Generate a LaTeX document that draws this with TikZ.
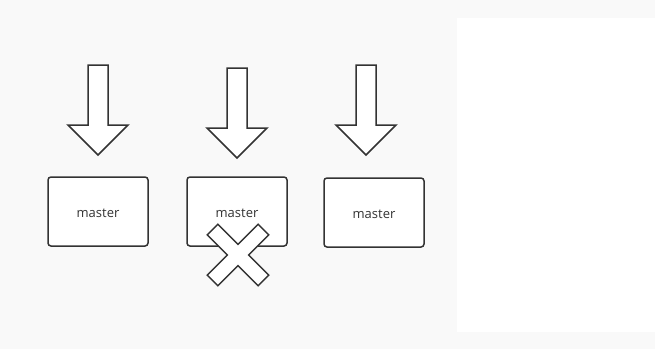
\documentclass[tikz,border=0pt]{standalone}
\usepackage{fontspec}
\setmainfont{Open Sans}
\definecolor{bggray}{HTML}{F9F9F9}
\definecolor{linegray}{HTML}{333333}

\begin{document}
\begin{tikzpicture}[x=1pt,y=-1pt,
  masterbox/.style={draw=linegray,line width=1.5pt,rounded corners=3pt,fill=white,minimum width=100pt,minimum height=69pt,font=\fontsize{13}{14}\selectfont,text=linegray,text height=11pt,text depth=0pt},
  blockarrow/.style={draw=linegray,line width=1.5pt,fill=white,line join=miter}]
\fill[bggray] (0,0) rectangle (655,349);
\fill[white] (457,18) rectangle (655,332);
\useasboundingbox (0,0) rectangle (655,349);
\node[masterbox] (M1) at (98,211.5) {master};
\node[masterbox] (M2) at (237,211.5) {master};
\node[masterbox] (M3) at (374,212.5) {master};
\draw[blockarrow] (88,65)--(108,65)--(108,125)--(128,125)--(98,155)--(68,125)--(88,125)--cycle;
\draw[blockarrow] (227,68)--(247,68)--(247,128)--(267,128)--(237,158)--(207,128)--(227,128)--cycle;
\draw[blockarrow] (356,65)--(376,65)--(376,125)--(396,125)--(366,155)--(336,125)--(356,125)--cycle;
%cross over the second master
\coordinate (X) at (238,255);
\draw[blockarrow,shift={(X)},rotate=45] (7.5,36)--(7.5,7.5)--(36,7.5)--(36,-7.5)--(7.5,-7.5)--(7.5,-36)
  --(-7.5,-36)--(-7.5,-7.5)--(-36,-7.5)--(-36,7.5)--(-7.5,7.5)--(-7.5,36)--cycle;
\end{tikzpicture}
\end{document}
